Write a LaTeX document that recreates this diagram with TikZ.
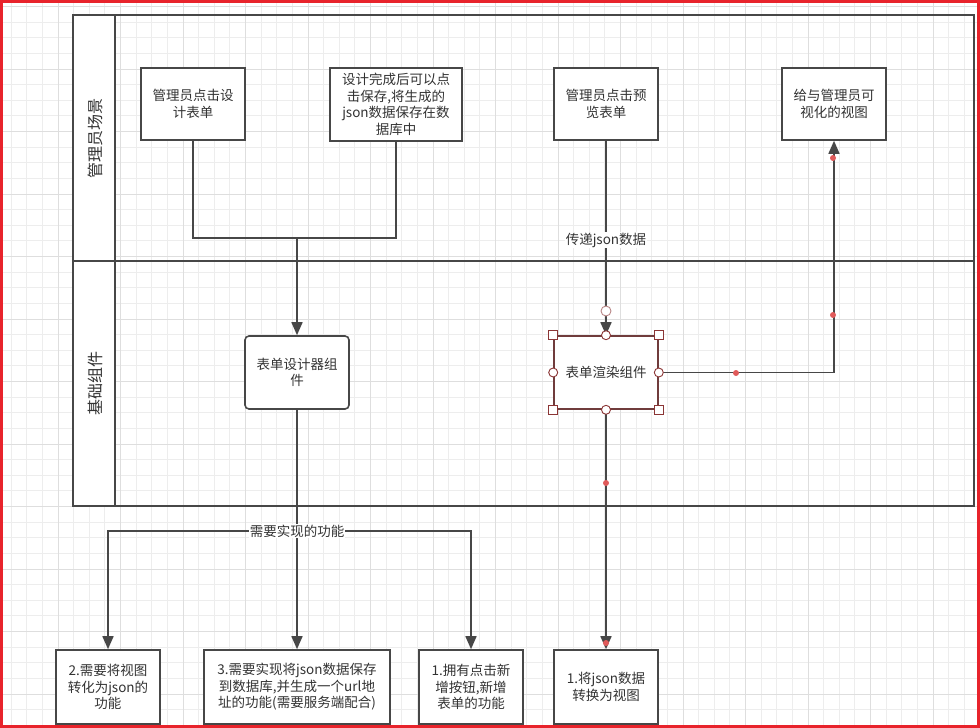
\documentclass[tikz,border=0pt]{standalone}
\usepackage{fontspec}
\setmainfont{Noto Sans CJK SC}
\usetikzlibrary{arrows.meta, positioning}
\definecolor{fdline}{HTML}{474747}
\definecolor{fdtext}{HTML}{333333}
\definecolor{fdgrid}{HTML}{EDEDED}
\definecolor{fdgridmajor}{HTML}{DEDEDE}
\definecolor{fdframe}{HTML}{E8232B}
\definecolor{fdsel}{HTML}{8B3535}
\definecolor{fddot}{HTML}{E05A5A}

\begin{document}
\begin{tikzpicture}[x=1pt, y=-1pt, font=\fontsize{13.5}{16.5}\selectfont,
        box/.style={draw=fdline, line width=1.6pt, fill=white, text=fdtext,
          minimum width=104pt, minimum height=72pt, align=center, inner sep=2pt},
        arr/.style={-{Triangle[length=13pt,width=11pt]}, draw=fdline, line width=1.6pt},
        wire/.style={draw=fdline, line width=1.6pt},
        lanelabel/.style={rotate=90, text=fdtext, font=\fontsize{16}{19}\selectfont},
        handle/.style={draw=fdsel, fill=white, line width=0.9pt, minimum size=9pt, inner sep=0pt},
        dot/.style={circle, fill=fddot, inner sep=0pt, minimum size=6pt}]
        \useasboundingbox (0,0) rectangle (980,728);
        % grid
        \begin{scope}
          \clip (0,0) rectangle (980,728);
          \foreach \i in {0,...,63} \draw[fdgrid, line width=0.8pt] ({-4.5+15.625*\i},0) -- ++(0,728);
          \foreach \i in {0,...,47} \draw[fdgrid, line width=0.8pt] (0,{-9.125+15.625*\i}) -- ++(980,0);
          \foreach \i in {0,...,16} \draw[fdgridmajor, line width=1pt] ({-4.5+62.5*\i},0) -- ++(0,728);
          \foreach \i in {0,...,12} \draw[fdgridmajor, line width=1pt] (0,{6.5+62.5*\i}) -- ++(980,0);
        \end{scope}
        % pool and lanes
        \draw[wire, fill=white] (73,15) rectangle (115,506);
        \draw[wire] (73,15) rectangle (974,506);
        \draw[wire] (73,261) -- (974,261);
        \node[lanelabel] (laneadmin) at (95,138) {管理员场景};
        \node[lanelabel] (lanebase) at (95,383) {基础组件};
        % top lane
        \node[box] (design) at (193,104) {管理员点击设\\计表单};
        \node[box, minimum width=132pt, minimum height=73pt] (save) at (396,104.5) {设计完成后可以点\\击保存,将生成的\\json数据保存在数\\据库中};
        \node[box] (preview) at (606,104) {管理员点击预\\览表单};
        \node[box] (view) at (834,104) {给与管理员可\\视化的视图};
        % bottom lane
        \node[box, rounded corners=4pt, minimum height=73pt] (designer) at (297,372.5) {表单设计器组\\件};
        \node[box, minimum height=73pt, draw=fdsel!60!fdline] (render) at (606,372.5) {表单渲染组件};
        % functions
        \node[box, minimum height=74pt] (f2) at (108,687) {2.需要将视图\\转化为json的\\功能};
        \node[box, minimum width=186pt, minimum height=74pt] (f3) at (297,687) {3.需要实现将json数据保存\\到数据库,并生成一个url地\\址的功能(需要服务端配合)};
        \node[box, minimum height=74pt] (f1) at (471,687) {1.拥有点击新\\增按钮,新增\\表单的功能};
        \node[box, minimum height=74pt] (f4) at (606,687) {1.将json数据\\转换为视图};
        % connectors
        \coordinate (join) at (297,238);
        \coordinate (split) at (297,531);
        \draw[wire] (design.south) |- (join) -| (save.south);
        \draw[arr] (join) -- (designer.north);
        \draw[arr] (preview.south) -- (render.north)
          node[pos=0.51, fill=white, inner sep=1pt, text=fdtext] (pass) {传递json数据};
        \draw[arr] (render.east) -| (view.south);
        \draw[arr] (render.south) -- (f4.north);
        \draw[wire] (designer.south) -- (split);
        \draw[arr] (split) -| (f2.north);
        \draw[arr] (split) -- (f3.north);
        \draw[arr] (split) -| (f1.north);
        \node[fill=white, inner sep=1pt, text=fdtext] (need) at (split) {需要实现的功能};
        % selection handles
        \foreach \a/\n in {north west/nw, north east/ne, south west/sw, south east/se}
          \node[handle, rectangle] (h\n) at (render.\a) {};
        \foreach \a/\n in {north/n, south/s, west/w, east/e}
          \node[handle, circle] (h\n) at (render.\a) {};
        \node[handle, circle, draw=fdsel!60, minimum size=10pt] (hlink) at (606,311) {};
        \node[dot] (d1) at (736,373) {};
        \node[dot] (d2) at (833,315) {};
        \node[dot] (d3) at (833,158) {};
        \node[dot] (d4) at (606,483) {};
        \node[dot] (d5) at (606,643) {};
        % frame
        \draw[fdframe, line width=3pt] (1.5,1.5) rectangle (978.5,726.5);
      \end{tikzpicture}
\end{document}
